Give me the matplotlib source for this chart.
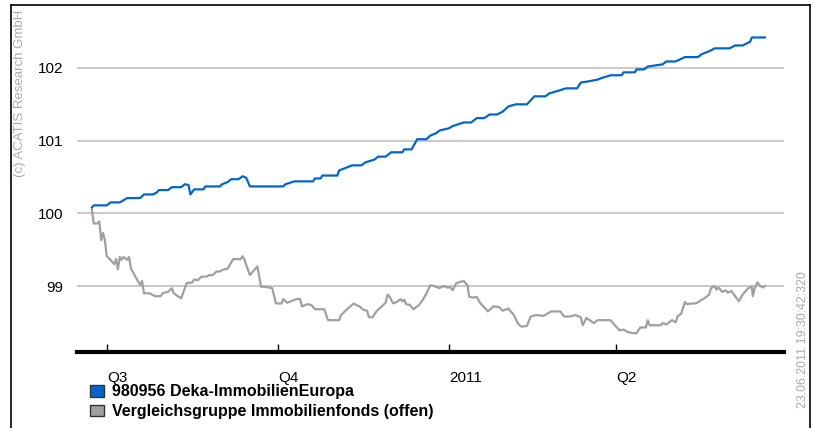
import matplotlib
matplotlib.use("Agg")
import matplotlib.pyplot as plt
from matplotlib.patches import Patch
from matplotlib.lines import Line2D

plt.rcParams['font.family'] = ['Liberation Sans', 'DejaVu Sans']

# x values are days after 2010-07-01
blue_days = [-8, -7, 0, 2, 7, 11, 18, 20, 25, 27, 28, 33, 35, 40, 42, 44, 45, 47, 52, 53,
             61, 62, 65, 67, 71, 73, 75, 77, 95, 96, 101, 111, 112, 115, 116, 124, 125,
             129, 132, 137, 139, 144, 146, 150, 153, 159, 160, 164, 167, 172, 174, 177,
             179, 184, 186, 192, 196, 199, 203, 206, 210, 213, 216, 220, 226, 230, 236,
             238, 242, 247, 253, 255, 260, 264, 266, 271, 277, 278, 284, 285, 289, 291,
             299, 301, 306, 311, 318, 320, 324, 327, 335, 338, 342, 346, 347, 354]
blue_vals = [100.08, 100.11, 100.11, 100.15, 100.15, 100.21, 100.21, 100.26, 100.26, 100.29,
             100.32, 100.32, 100.36, 100.36, 100.40, 100.39, 100.26, 100.33, 100.33, 100.37,
             100.37, 100.40, 100.43, 100.47, 100.47, 100.51, 100.49, 100.37, 100.37, 100.40,
             100.44, 100.44, 100.48, 100.48, 100.52, 100.52, 100.59, 100.63, 100.66, 100.66,
             100.70, 100.74, 100.78, 100.78, 100.84, 100.84, 100.88, 100.88, 101.02, 101.02,
             101.07, 101.10, 101.14, 101.17, 101.20, 101.25, 101.25, 101.31, 101.31, 101.36,
             101.36, 101.40, 101.47, 101.50, 101.50, 101.61, 101.61, 101.65, 101.68, 101.72,
             101.72, 101.80, 101.82, 101.84, 101.86, 101.90, 101.90, 101.94, 101.94, 101.98,
             101.98, 102.02, 102.05, 102.09, 102.09, 102.15, 102.15, 102.19, 102.23, 102.27,
             102.27, 102.31, 102.31, 102.36, 102.42, 102.42]

gray_days = [-8, -7, -5, -4, -3, -2, -1, 0, 2, 4, 5, 6, 7, 8, 9, 11, 12, 13, 18, 19, 20,
             23, 26, 29, 30, 33, 35, 36, 40, 43, 46, 47, 49, 51, 54, 55, 57, 59, 61, 62,
             65, 68, 72, 73, 74, 75, 77, 81, 83, 85, 89, 91, 94, 95, 97, 99, 102, 104,
             105, 108, 110, 112, 117, 119, 125, 126, 128, 131, 133, 134, 136, 138, 140,
             141, 143, 145, 148, 150, 151, 152, 154, 156, 158, 159, 160, 161, 163, 165,
             168, 170, 172, 174, 176, 179, 181, 183, 185, 186, 188, 192, 194, 195, 197,
             199, 201, 204, 205, 208, 211, 213, 216, 219, 221, 223, 226, 228, 231, 235,
             237, 239, 244, 246, 249, 252, 255, 256, 258, 262, 264, 271, 274, 276, 278,
             280, 283, 285, 287, 290, 291, 292, 298, 299, 301, 304, 306, 307, 309, 311,
             312, 315, 317, 320, 322, 324, 325, 327, 328, 329, 331, 333, 334, 336, 340,
             342, 345, 347, 347.5, 348.5, 350, 351.5, 353, 354]
gray_vals = [100.05, 99.86, 99.86, 99.89, 99.63, 99.73, 99.63, 99.41, 99.36, 99.30, 99.37,
             99.23, 99.40, 99.36, 99.40, 99.36, 99.40, 99.24, 99.01, 99.07, 98.90, 98.90,
             98.86, 98.86, 98.90, 98.92, 98.97, 98.90, 98.83, 99.04, 99.05, 99.09, 99.08,
             99.13, 99.13, 99.15, 99.15, 99.20, 99.20, 99.22, 99.24, 99.37, 99.37, 99.41,
             99.37, 99.29, 99.15, 99.27, 98.99, 98.99, 98.97, 98.76, 98.76, 98.82, 98.77,
             98.79, 98.82, 98.82, 98.72, 98.75, 98.74, 98.68, 98.68, 98.53, 98.53, 98.60,
             98.65, 98.72, 98.76, 98.74, 98.72, 98.67, 98.66, 98.57, 98.57, 98.65, 98.72,
             98.77, 98.88, 98.86, 98.76, 98.78, 98.82, 98.79, 98.81, 98.75, 98.74, 98.68,
             98.74, 98.81, 98.90, 99.01, 99.00, 98.97, 99.00, 98.98, 98.98, 98.94, 99.04,
             99.07, 99.01, 98.85, 98.84, 98.85, 98.76, 98.68, 98.65, 98.72, 98.71, 98.66,
             98.69, 98.60, 98.49, 98.44, 98.45, 98.58, 98.60, 98.59, 98.62, 98.65, 98.65,
             98.58, 98.58, 98.60, 98.57, 98.46, 98.56, 98.49, 98.53, 98.53, 98.44, 98.39,
             98.40, 98.37, 98.35, 98.35, 98.43, 98.43, 98.53, 98.46, 98.46, 98.49, 98.47,
             98.53, 98.50, 98.58, 98.62, 98.78, 98.75, 98.76, 98.76, 98.81, 98.84, 98.88,
             98.97, 99.00, 98.95, 98.98, 98.92, 98.94, 98.91, 98.93, 98.79, 98.88, 98.97,
             98.99, 98.86, 98.97, 99.05, 99.00, 98.98, 99.00]

tick_days = [0, 92, 184, 274]
tick_labels = ['Q3', 'Q4', '2011', 'Q2']
y_ticks = [99, 100, 101, 102]
series_names = ['980956 Deka-ImmobilienEuropa', 'Vergleichsgruppe Immobilienfonds (offen)']
blue = '#0066cc'
gray = '#a0a0a0'

fig = plt.figure(figsize=(8.15, 4.28), dpi=100)
ax = fig.add_axes([0.0945, 0.1776, 0.8675, 0.8104])

ax.plot(gray_days, gray_vals, color=gray, lw=1.6, zorder=3)
ax.plot(blue_days, blue_vals, color=blue, lw=1.6, zorder=4)

ax.set_xlim(-16, 364.3)
ax.set_ylim(98.092, 102.865)
ax.set_yticks(y_ticks)
ax.set_yticklabels([str(v) for v in y_ticks], fontsize=11)
ax.set_xticks(tick_days)
ax.set_xticklabels(tick_labels, fontsize=11, ha='left')
ax.tick_params(axis='y', length=0, pad=10)
ax.tick_params(axis='x', direction='in', length=6, width=1, pad=14, color='black')
ax.grid(axis='y', color='#c0c0c0', lw=1.2)
ax.set_axisbelow(True)
for s in ['top', 'right', 'left']:
    ax.spines[s].set_visible(False)
ax.spines['bottom'].set_linewidth(3)
ax.spines['bottom'].set_zorder(5)

handles = [Patch(facecolor=blue, edgecolor='#333333', lw=1),
           Patch(facecolor=gray, edgecolor='#333333', lw=1)]
fig.legend(handles, series_names, loc='upper left', bbox_to_anchor=(0.111, 0.102),
           frameon=False, borderpad=0, borderaxespad=0, handlelength=0.82,
           handleheight=0.75, handletextpad=0.5, labelspacing=0.3,
           prop={'weight': 'bold', 'size': 11.5})

# outer frame
fig.add_artist(Line2D([11/815, 11/815], [0, 1 - 5/428], color='black', lw=1.2))
fig.add_artist(Line2D([11/815, 810/815], [1 - 5/428, 1 - 5/428], color='black', lw=1.2))
fig.add_artist(Line2D([810/815, 810/815], [0, 1 - 5/428], color='black', lw=1.2))

fig.text(20/815, 1 - 10/428, '(c) ACATIS Research GmbH', rotation=90, ha='center',
         va='top', color='#aaaaaa', fontsize=9.5)
fig.text(803/815, 1 - 408/428, '23.06.2011 19:30:42:320', rotation=90, ha='center',
         va='bottom', color='#aaaaaa', fontsize=8.9)

fig.savefig('out.png', dpi=100)
